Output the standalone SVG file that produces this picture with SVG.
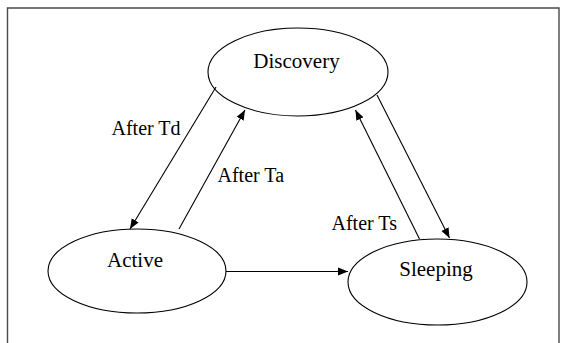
<svg xmlns="http://www.w3.org/2000/svg" width="566" height="343" viewBox="0 0 566 343">
<style>
.node ellipse{fill:#fff;stroke:#000;stroke-width:1.1}
.node text{font-family:"Liberation Serif","Times New Roman",serif;font-size:21px;fill:#000;text-anchor:middle}
.lbl{font-family:"Liberation Serif","Times New Roman",serif;font-size:20px;fill:#000}
.edge{stroke:#000;stroke-width:1.1;fill:none;marker-end:url(#ah)}
</style>
<defs>
<marker id="ah" viewBox="0 0 10 10" refX="10" refY="5" markerWidth="10" markerHeight="10" markerUnits="userSpaceOnUse" orient="auto">
<path d="M0,1 L10,5 L0,9 z" fill="#000"/>
</marker>
</defs>
<rect width="566" height="343" fill="#fff"/>
<path d="M7.5,343 V8 H559 V343" fill="none" stroke="#4a4a4a" stroke-width="1.4"/>
<g id="discovery" class="node">
<ellipse cx="298" cy="72" rx="90" ry="44"/>
<text x="296.5" y="67.5">Discovery</text>
</g>
<g id="active" class="node">
<ellipse cx="137" cy="271" rx="89" ry="42"/>
<text x="135" y="267">Active</text>
</g>
<g id="sleeping" class="node">
<ellipse cx="437.5" cy="282" rx="89.5" ry="43"/>
<text x="436" y="276">Sleeping</text>
</g>
<g id="connectors">
<line class="edge" x1="216" y1="87" x2="130" y2="229"/>
<line class="edge" x1="179" y1="229" x2="245" y2="110"/>
<line class="edge" x1="377" y1="95" x2="449.5" y2="238"/>
<line class="edge" x1="419.5" y1="239" x2="355.5" y2="110"/>
<line class="edge" x1="226" y1="271.5" x2="348" y2="271.5"/>
</g>
<g id="labels">
<text class="lbl" x="111.5" y="135">After Td</text>
<text class="lbl" x="217.5" y="181.5">After Ta</text>
<text class="lbl" x="331.5" y="230">After Ts</text>
</g>
</svg>
